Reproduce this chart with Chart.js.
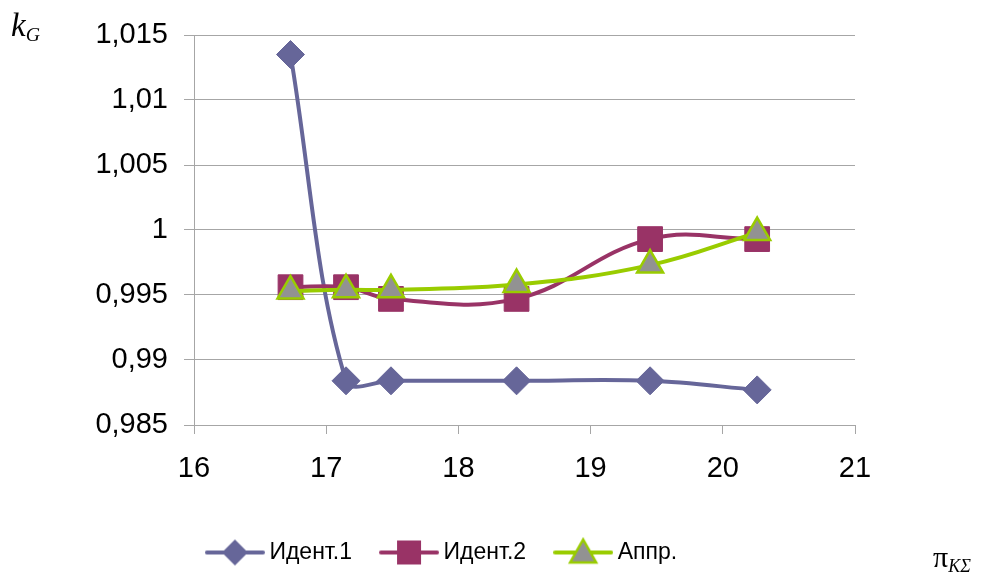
<!DOCTYPE html>
<html>
<head>
<meta charset="utf-8">
<script src="https://cdn.jsdelivr.net/npm/chart.js@4/dist/chart.umd.min.js"></script>
<style>
    html, body { margin: 0; padding: 0; background: #fff; }
    #wrap { position: relative; width: 982px; height: 579px; }
    .ttl { position: absolute; font-family: "Liberation Serif", "DejaVu Serif", serif; color: #000; white-space: nowrap; }
    .ttl i { font-style: italic; }
    .ttl sub { font-size: 60%; vertical-align: -0.25em; font-style: italic; }
</style>
</head>
<body>
<div id="wrap">
    <canvas id="chart" width="982" height="579"></canvas>
    <div class="ttl" style="left:11px; top:7px; font-size:33px;"><i>k</i><sub>G</sub></div>
    <div class="ttl" style="left:933px; top:540px; font-size:30px;">π<sub>KΣ</sub></div>
</div>
<script>
// DATA
const xVals = [16.73, 17.15, 17.49, 18.44, 19.45, 20.26];
const ident1 = [1.0135, 0.9884, 0.9884, 0.9884, 0.9884, 0.9877];
const ident2 = [0.9956, 0.9956, 0.9947, 0.9947, 0.9993, 0.9993];
const appr = [0.9953, 0.9954, 0.9954, 0.9958, 0.9973, 0.9998];
const seriesNames = ['Идент.1', 'Идент.2', 'Аппр.'];

const blue = '#666699';
const plum = '#993366';
const lime = '#99cc00';
const grey = '#929292';
const gridCol = '#a6a6a6';

function pts(ys) {
    return xVals.map((x, i) => ({x: x, y: ys[i]}));
}

// legend swatch: line with the marker in the middle
function swatch(kind, color, fill) {
    const c = document.createElement('canvas');
    c.width = 60;
    c.height = 32;
    const g = c.getContext('2d');
    g.strokeStyle = color;
    g.lineWidth = 4;
    g.lineCap = 'round';
    g.beginPath();
    g.moveTo(2, 16);
    g.lineTo(58, 16);
    g.stroke();
    g.beginPath();
    if (kind == 'diamond') {
        g.moveTo(30, 3); g.lineTo(43, 16); g.lineTo(30, 29); g.lineTo(17, 16);
        g.closePath();
        g.fillStyle = color;
        g.fill();
    } else if (kind == 'square') {
        g.rect(18, 4, 24, 24);
        g.fillStyle = color;
        g.fill();
    } else {
        g.moveTo(30, 3); g.lineTo(43, 26); g.lineTo(17, 26);
        g.closePath();
        g.fillStyle = fill;
        g.fill();
        g.lineWidth = 2.5;
        g.stroke();
    }
    return c;
}

const swatches = [
    swatch('diamond', blue),
    swatch('square', plum),
    swatch('triangle', lime, grey),
];

const tickFont = {family: '"Liberation Sans", Arial, sans-serif', size: 29};

const myChart = new Chart(document.getElementById('chart').getContext('2d'), {
    type: 'line',
    data: {
        datasets: [
            {
                label: seriesNames[0],
                data: pts(ident1),
                borderColor: blue,
                backgroundColor: blue,
                borderWidth: 4,
                tension: 0.35,
                pointStyle: 'rectRot',
                pointRadius: 14,
                pointBorderWidth: 1,
                order: 2,
            },
            {
                label: seriesNames[1],
                data: pts(ident2),
                borderColor: plum,
                backgroundColor: plum,
                borderWidth: 4,
                tension: 0.4,
                pointStyle: 'rect',
                pointRadius: 17.5,
                pointBorderWidth: 1,
                order: 1,
            },
            {
                label: seriesNames[2],
                data: pts(appr),
                borderColor: lime,
                backgroundColor: grey,
                pointBorderColor: lime,
                borderWidth: 4,
                tension: 0.4,
                pointStyle: 'triangle',
                pointRadius: 15,
                pointBorderWidth: 2.5,
                order: 0,
            },
        ],
    },
    options: {
        responsive: false,
        animation: false,
        layout: {padding: {left: 34, right: 127, top: 35, bottom: 5}},
        scales: {
            x: {
                type: 'linear',
                min: 16,
                max: 21,
                ticks: {stepSize: 1, color: '#000', font: tickFont, padding: 18},
                grid: {drawOnChartArea: false, color: gridCol, tickLength: 9},
                border: {color: gridCol},
                afterFit: (s) => { s.height = 82; },
            },
            y: {
                min: 0.985,
                max: 1.015,
                ticks: {
                    stepSize: 0.005,
                    color: '#000',
                    font: tickFont,
                    padding: 16,
                    callback: (v) => parseFloat(v.toFixed(3)).toString().replace('.', ','),
                },
                grid: {color: gridCol, tickLength: 10},
                border: {color: gridCol},
                afterFit: (s) => { s.width = 160; },
            },
        },
        plugins: {
            tooltip: {enabled: false},
            legend: {
                position: 'bottom',
                labels: {
                    usePointStyle: true,
                    pointStyleWidth: 46,
                    padding: 34,
                    color: '#000',
                    font: {family: '"Liberation Sans", Arial, sans-serif', size: 23},
                    generateLabels: (chart) => chart.data.datasets.map((ds, i) => ({
                        text: ds.label,
                        pointStyle: swatches[i],
                        fillStyle: 'transparent',
                        strokeStyle: 'transparent',
                        lineWidth: 0,
                        hidden: false,
                        datasetIndex: i,
                    })),
                },
            },
        },
    },
});
</script>
</body>
</html>
